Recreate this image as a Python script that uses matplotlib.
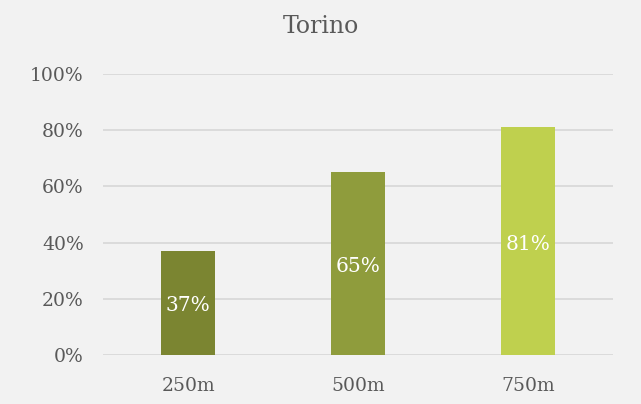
import numpy as np
import matplotlib.pyplot as plt

title = "Torino"
categories = ["250m", "500m", "750m"]
values = [37, 65, 81]
colors = ["#7b8531", "#8f9c3c", "#bfd04e"]
yticks = [0, 20, 40, 60, 80, 100]

plt.rcParams['font.family'] = ['DejaVu Serif']
text_col = "#595959"
bg = "#f2f2f2"

fig = plt.figure(figsize=(6.41, 4.04), dpi=100, facecolor=bg)
ax = fig.add_axes([0.161, 0.121, 0.795, 0.696], facecolor=bg)

x = np.arange(len(categories))
bars = ax.bar(x, values, width=0.32, color=colors, zorder=3)

for b, v in zip(bars, values):
    ax.text(b.get_x() + b.get_width() / 2, v / 2 - 1, "%d%%" % v,
            ha="center", va="center", color="white", fontsize=14.5, zorder=4)

ax.set_xlim(-0.5, len(categories) - 0.5)
ax.set_ylim(0, 100)
ax.set_yticks(yticks)
ax.set_yticklabels(["%d%%" % t for t in yticks])
ax.set_xticks(x)
ax.set_xticklabels(categories)
ax.grid(axis="y", color="#d9d9d9", linewidth=1.3, zorder=0)
for s in ax.spines.values():
    s.set_visible(False)
ax.tick_params(length=0, labelsize=13.5, colors=text_col)
ax.tick_params(axis="x", pad=16)
ax.tick_params(axis="y", pad=14)

fig.suptitle(title, y=0.962, fontsize=17, color=text_col)

fig.savefig("out.png", dpi=100, facecolor=bg)
